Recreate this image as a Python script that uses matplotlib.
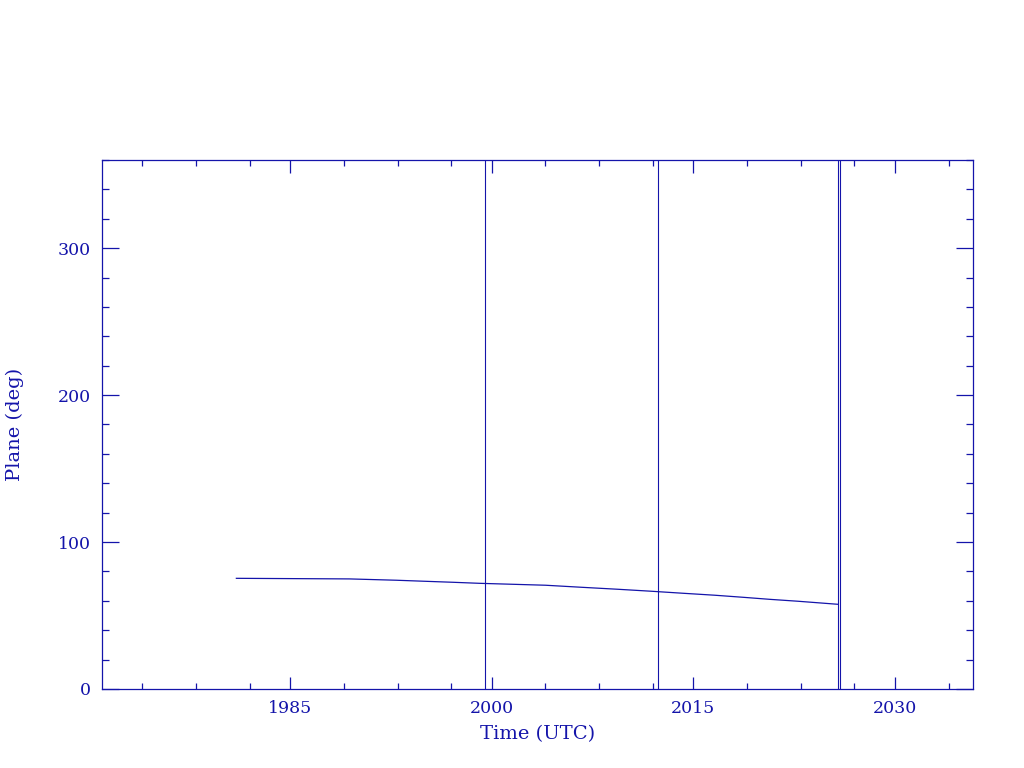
import numpy as np
import matplotlib
matplotlib.use('Agg')
import matplotlib.pyplot as plt
from matplotlib.ticker import FixedLocator

plt.close('all')

# plane angle vs time
years = [1981.0, 1989.4, 1992.9, 1995.0, 1997.15, 1999.1, 2004.0, 2006.7,
         2009.4, 2011.9, 2014.3, 2016.6, 2018.7, 2020.7, 2022.8, 2024.8, 2025.8]
plane = [75.3, 74.9, 74.0, 73.3, 72.6, 71.9, 70.6, 69.2,
         67.85, 66.5, 65.1, 63.8, 62.4, 61.0, 59.7, 58.3, 57.6]

# event markers (vertical lines)
events = [1999.47, 2012.4, 2025.80, 2025.95]

x_major = [1970, 1985, 2000, 2015, 2030]
x_minor = [y0 + k for y0 in x_major for k in (4, 8, 12)]
x_labels = ['1970', '1985', '2000', '2015', '2030']

col = '#1414aa'
plt.rcParams['font.family'] = ['DejaVu Serif']

fig = plt.figure(figsize=(10.24, 7.68), dpi=100)
ax = fig.add_axes([0.0996, 0.1029, 0.8506, 0.6888])

ax.plot(years, plane, color=col, lw=0.9)
for ev in events:
    ax.axvline(ev, color=col, lw=0.8)

ax.set_xlim(1971.0, 2035.82)
ax.set_ylim(0, 360)

ax.xaxis.set_major_locator(FixedLocator(x_major))
ax.set_xticklabels(x_labels)
ax.xaxis.set_minor_locator(FixedLocator(x_minor))
ax.yaxis.set_major_locator(FixedLocator([0, 100, 200, 300]))
ax.yaxis.set_minor_locator(FixedLocator(np.arange(0, 361, 20)))

ax.tick_params(axis='both', which='both', direction='in', top=True, right=True,
               color=col, labelcolor=col, labelsize=12.5, width=0.9)
ax.tick_params(axis='x', which='major', length=9, pad=8)
ax.tick_params(axis='x', which='minor', length=4.5)
ax.tick_params(axis='y', which='major', length=12, pad=8)
ax.tick_params(axis='y', which='minor', length=5)

for s in ax.spines.values():
    s.set_color(col)
    s.set_linewidth(0.9)

ax.set_xlabel('Time (UTC)', color=col, fontsize=14, labelpad=6)
ax.set_ylabel('Plane (deg)', color=col, fontsize=14, labelpad=24)

fig.savefig('out.png', dpi=100)
